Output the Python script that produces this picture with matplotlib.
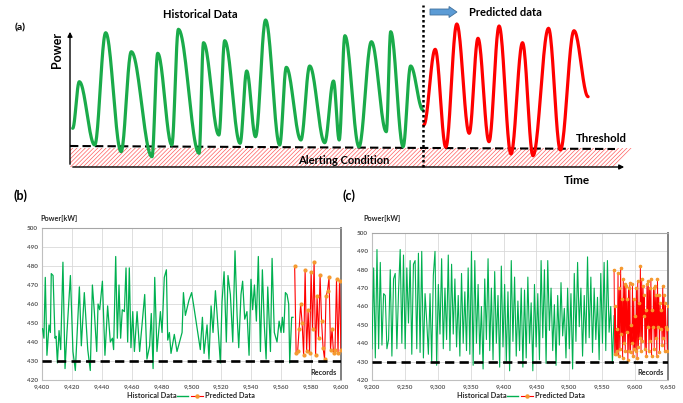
import numpy as np
import matplotlib
matplotlib.use("Agg")
import matplotlib.pyplot as plt
import matplotlib.patches as mpatches
from matplotlib.lines import Line2D
from matplotlib.ticker import FuncFormatter, MultipleLocator

plt.rcParams['font.family'] = ['Lato', 'DejaVu Sans']
plt.rcParams['hatch.linewidth'] = 0.5

GREEN = '#00B050'
RED = '#FF0000'
ORANGE = '#F59A30'
GRAY = '#595959'

# ---- panel (a): schematic, turning points of the curves (time, power units)
hist_a_t = [2.7, 9.3, 24.7, 35.7, 51.1, 61.3, 82, 87.7, 101.8, 108.4, 129.1, 133.5,
            148.9, 154.7, 170.1, 176.7, 185.5, 195.6, 209.7, 216.3, 230.9, 239.7,
            254.7, 263.5, 269.2, 274.9, 289, 301.4, 316.3, 320.7, 333.1, 340.6, 352.9]
hist_a_p = [38.7, 85.3, 22, 134.3, 15.3, 115.3, 10.3, 113.7, 22, 137.7, 13.7, 124.3,
            32, 126.3, 23.7, 96, 30.3, 147, 22, 99.7, 27, 101,
            24.3, 86, 27, 131.3, 20.3, 125.3, 35.3, 135.3, 20.3, 101, 57]
pred_a_t = [353.8, 365.2, 375.8, 386.8, 399.2, 408, 419, 429.1, 441, 452.5, 463,
            478.5, 490.4, 504, 518.1]
pred_a_p = [42, 117.7, 19.7, 143, 33.7, 128.7, 25.3, 141, 13, 124.3, 11.3,
            138.7, 17, 136.3, 70.3]
threshold_a = [21, 18]

# ---- panel (b)
hist_b_off = [0.4, 1.3, 2.2, 3.3, 4.7, 5.6, 6.2, 7.4, 8.7, 9.4, 10.3, 11.4, 12.5, 14.0,
              15.4, 16.7, 19.0, 20.7, 22.3, 25.0, 26.3, 28.3, 30.6, 32.3, 33.7, 35.0,
              36.6, 37.5, 38.6, 40.4, 42.1, 43.9, 45.7, 47.1, 47.9, 49.3, 50.4, 51.5,
              52.6, 53.7, 55.1, 56.2, 57.3, 58.4, 59.5, 60.7, 61.8, 63.6, 65.3, 66.9,
              68.7, 70.2, 72.0, 73.1, 74.3, 75.4, 76.9, 79.2, 80.3, 81.8, 83.2, 84.1,
              85.2, 86.3, 88.5, 90.3, 93.7, 94.6, 95.9, 98.3, 100.1, 101.5, 105.9,
              107.3, 108.4, 110.4, 111.7, 113.1, 114.4, 116.0, 117.1, 119.3, 120.4,
              121.8, 123.3, 124.4, 126.0, 127.6, 129.1, 130.5, 131.6, 133.1, 134.2,
              135.6, 137.1, 138.5, 139.8, 140.9, 142.1, 143.4, 144.7, 146.1, 147.4,
              148.7, 149.9, 151.0, 152.8, 153.9, 155.4, 157.2, 158.6, 159.9, 160.8,
              161.7, 162.8, 163.9, 165.0, 165.7, 167.0, 167.9]
hist_b_kw = [447, 442, 474, 433, 449, 445, 476, 475, 442, 443, 429, 446, 436, 482,
             426, 445, 475, 435, 425, 469, 438, 466, 436, 425, 470, 456,
             435, 460, 457, 472, 433, 459, 440, 442, 436, 485, 442, 470,
             442, 457, 456, 479, 440, 479, 437, 456, 435, 456, 435, 449,
             465, 431, 438, 455, 426, 474, 435, 456, 445, 474, 478, 441,
             445, 434, 444, 435, 445, 466, 454, 462, 466, 459, 436,
             453, 434, 449, 431, 459, 445, 467, 455, 429, 461,
             477, 440, 475, 465, 440, 488, 454, 437, 465, 472,
             452, 456, 433, 473, 457, 470, 451, 485, 435, 478,
             449, 431, 469, 435, 484, 445, 440, 451, 445, 453,
             445, 466, 465, 460, 429, 453, 453]
pred_b_start = 9569
pred_b_kw = [480, 434, 435, 447, 460, 450, 433, 478, 435, 457, 434, 477, 447, 482,
             433, 464, 442, 475, 451, 437, 431, 464, 467, 474, 436, 447, 434, 436,
             473, 434, 472, 436]

# ---- panel (c)
hist_c_kw = [437, 481, 432, 491, 437, 484, 439, 467, 466, 437, 442, 480, 433, 475,
             478, 437, 468, 491, 440, 488, 437, 481, 451, 485, 434, 483, 485, 437,
             489, 435, 490, 432, 467, 452, 434, 467, 430, 477, 490, 428, 472, 445,
             486, 437, 470, 442,
             488, 436, 483, 445, 475, 438, 466, 433, 478, 440, 468, 436, 481, 434,
             490, 428, 485, 440, 472, 434, 460, 426, 475, 442, 486, 436, 470, 431,
             479, 440, 466, 427, 482, 438, 472, 430, 468, 425, 485, 441, 476, 433,
             463, 436, 470, 427,
             469, 432, 476, 440, 462, 425, 472, 438, 467, 431, 485, 443, 480, 429,
             485, 447, 470, 436, 461, 428, 466, 439, 473, 444, 459, 432, 470, 437,
             467, 426, 478, 441, 484, 449, 470, 433, 466, 440, 487, 443, 476, 435,
             470, 442, 465, 431,
             478, 440, 484, 436, 485, 446, 460, 429, 455]
hist_c_range = (9200, 9568)
pred_c_start = 9568
pred_c_kw = [480, 434, 460, 434, 448, 436, 478, 433, 470, 437, 481, 445, 464, 432,
             475, 440, 472, 436, 471, 446, 464, 431, 470, 436, 473, 435, 450, 440,
             472, 433, 464, 437, 455, 436, 470, 432, 474, 438, 462, 443, 482, 436,
             475, 441, 471, 455, 466, 437, 458, 433, 472, 449, 474, 436, 470, 441,
             475, 433, 458, 449, 470, 437, 471, 443, 466, 433, 475, 449, 466, 435,
             462, 448, 458, 439, 471, 443, 466, 436, 462, 449, 448, 436, 460]
threshold_kw = 430


def smooth_wave(ts, ps, n=24):
    """join turning points with half-cosine segments (schematic curve)"""
    xs, ys = [], []
    for i in range(len(ts) - 1):
        s = np.linspace(0, 1, n)
        xs.append(ts[i] + (ts[i + 1] - ts[i]) * s)
        ys.append(ps[i] + (ps[i + 1] - ps[i]) * (1 - np.cos(np.pi * s)) / 2)
    return np.concatenate(xs), np.concatenate(ys)


W, H = 683, 403
fig = plt.figure(figsize=(W / 100, H / 100), dpi=100)

# ================= panel (a)
axa = fig.add_axes([70 / W, 1 - 167 / H, 570 / W, 167 / H])
axa.set_xlim(0, 570)
axa.set_ylim(0, 167)
axa.axis('off')

hatch = mpatches.Polygon([(0, 0), (544, 0), (562, 19), (0, 19)], closed=True,
                         facecolor='none', edgecolor='#FF6060', hatch='////////', lw=0)
axa.add_patch(hatch)
axa.plot([0, 545], threshold_a, color='k', lw=1.5, dashes=(4, 2))

x, y = smooth_wave(hist_a_t, hist_a_p)
axa.plot(x, y, color='#1AAB4A', lw=2.3, solid_capstyle='round')
x, y = smooth_wave(pred_a_t, pred_a_p)
axa.plot(x, y, color=RED, lw=2.3, solid_capstyle='round')

axa.plot([353, 353], [0, 162], color='k', lw=1.8, ls=(0, (1, 1)), clip_on=False)
axa.annotate('', xy=(0, 138), xytext=(0, 0),
             arrowprops=dict(arrowstyle='-|>', color='k', lw=1.0, mutation_scale=7))
axa.annotate('', xy=(557, 0), xytext=(0, 0), annotation_clip=False,
             arrowprops=dict(arrowstyle='-|>', color='k', lw=1.0, mutation_scale=7))
axa.add_patch(mpatches.FancyArrow(360, 155, 27, 0, width=6, head_width=11, head_length=8,
                                  length_includes_head=True, fc='#5B9BD5', ec='#41719C',
                                  lw=0.6, clip_on=False))

axa.text(130, 152, 'Historical Data', ha='center', va='center', fontsize=8, fontweight='bold')
axa.text(399, 154, 'Predicted data', ha='left', va='center', fontsize=8, fontweight='bold')
axa.text(-13, 117, 'Power', ha='center', va='center', rotation=90, fontsize=9,
         fontweight='bold', clip_on=False)
axa.text(507, -13, 'Time', ha='center', va='center', fontsize=8.5, fontweight='bold',
         clip_on=False)
axa.text(531, 29, 'Threshold', ha='center', va='center', fontsize=8.2, fontweight='bold')
axa.text(274, 7, 'Alerting Condition', ha='center', va='center', fontsize=8,
         fontweight='bold')
fig.text(20 / W, 1 - 28 / H, '(a)', ha='center', va='center', fontsize=7.5, fontweight='bold')


# ================= panels (b), (c)
def style_axis(ax, xmin, xmax, xstep):
    ax.set_xlim(xmin, xmax)
    ax.set_ylim(420, 500)
    ax.xaxis.set_major_locator(MultipleLocator(xstep))
    ax.yaxis.set_major_locator(MultipleLocator(10))
    ax.xaxis.set_major_formatter(FuncFormatter(lambda v, p: f'{v:,.0f}'))
    ax.grid(True, color='#D9D9D9', lw=0.6)
    ax.set_axisbelow(True)
    ax.tick_params(length=0, labelsize=4.6, labelcolor=GRAY, pad=3)
    for lab in ax.get_xticklabels() + ax.get_yticklabels():
        lab.set_fontweight('bold')
    ax.spines['left'].set_color('#BFBFBF')
    ax.spines['bottom'].set_color('#BFBFBF')
    ax.spines['top'].set_color('#A6A6A6')
    ax.spines['right'].set_color('#808080')
    ax.spines['right'].set_linewidth(1.4)
    ax.axhline(threshold_kw, color='k', lw=1.9, dashes=(3.5, 2), zorder=4)
    ax.text(0.985, 0.05, 'Records', transform=ax.transAxes, ha='right', va='center',
            fontsize=5.2, fontweight='bold', color='#262626')


def legend_row(x0, y0):
    # Historical Data  ---  -o-  Predicted Data  (figure pixel positions)
    fig.text(x0 / W, 1 - y0 / H, 'Historical Data', ha='left', va='center',
             fontsize=5.3, fontweight='bold', color='#262626')
    fig.add_artist(Line2D([(x0 + 50) / W, (x0 + 61) / W], [1 - y0 / H] * 2,
                          color=GREEN, lw=1.0))
    fig.add_artist(Line2D([(x0 + 64) / W, (x0 + 76) / W], [1 - y0 / H] * 2,
                          color=RED, lw=0.8))
    fig.add_artist(Line2D([(x0 + 70) / W], [1 - y0 / H], color=ORANGE, marker='o',
                          ms=2.2, lw=0))
    fig.text((x0 + 78) / W, 1 - y0 / H, 'Predicted Data', ha='left', va='center',
             fontsize=5.3, fontweight='bold', color='#262626')


axb = fig.add_axes([42 / W, 1 - 380 / H, 299 / W, 152 / H])
style_axis(axb, 9400, 9600, 20)
hist_b_rec = [9400 + d for d in hist_b_off]
axb.plot(hist_b_rec, hist_b_kw, color=GREEN, lw=0.9, zorder=3)
pred_b_rec = np.arange(pred_b_start, pred_b_start + len(pred_b_kw))
axb.plot(pred_b_rec, pred_b_kw, color=RED, lw=0.8, marker='o', ms=2.0, mfc=ORANGE,
         mec=ORANGE, zorder=3)
fig.text(40 / W, 1 - 218 / H, 'Power[kW]', ha='left', va='center', fontsize=5.2,
         fontweight='bold', color='#262626')
fig.text(20 / W, 1 - 196 / H, '(b)', ha='center', va='center', fontsize=9,
         fontweight='bold')
legend_row(127, 396)

axc = fig.add_axes([372 / W, 1 - 380 / H, 296 / W, 147 / H])
style_axis(axc, 9200, 9650, 50)
hist_c_rec = np.linspace(hist_c_range[0], hist_c_range[1], len(hist_c_kw))
axc.plot(hist_c_rec, hist_c_kw, color=GREEN, lw=0.8, zorder=3)
pred_c_rec = np.arange(pred_c_start, pred_c_start + len(pred_c_kw))
axc.plot(pred_c_rec, pred_c_kw, color=RED, lw=0.7, marker='o', ms=1.6, mfc=ORANGE,
         mec=ORANGE, zorder=3)
fig.text(363 / W, 1 - 218 / H, 'Power[kW]', ha='left', va='center', fontsize=5.2,
         fontweight='bold', color='#262626')
fig.text(349 / W, 1 - 196 / H, '(c)', ha='center', va='center', fontsize=9,
         fontweight='bold')
legend_row(457, 396)

fig.savefig('out.png', dpi=100)
